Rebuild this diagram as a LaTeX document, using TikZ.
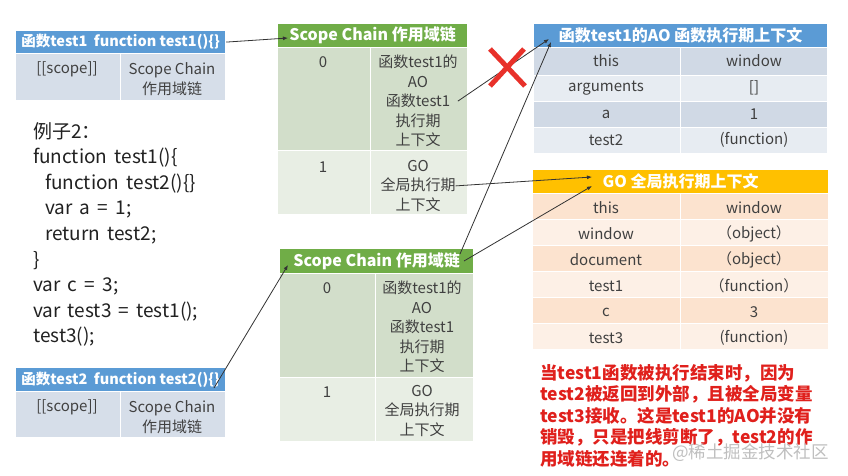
\documentclass[tikz,border=0pt]{standalone}
\usepackage{fontspec}
\setmainfont{Noto Sans CJK SC}
\usetikzlibrary{arrows.meta,calc}
\definecolor{hblue}{HTML}{5B9BD5}
\definecolor{bbody}{HTML}{D6DEE9}
\definecolor{aodark}{HTML}{D0D9E5}
\definecolor{aolight}{HTML}{E7ECF2}
\definecolor{hgreen}{HTML}{70AD47}
\definecolor{gdark}{HTML}{D2DECA}
\definecolor{glight}{HTML}{E8EEE4}
\definecolor{horange}{HTML}{FFC000}
\definecolor{odark}{HTML}{FCE3CF}
\definecolor{olight}{HTML}{FDF0E6}
\definecolor{xred}{HTML}{E8312A}
\definecolor{tred}{HTML}{E0201C}
\definecolor{txt}{HTML}{404040}
\newcommand\cellat[6]{\node[cellbox, fill=#6, minimum width=#4pt, minimum height=#5pt] (#1) at (#2,#3) {};}
\newcommand\widesp{\spaceskip=0.38em\relax}
\tikzset{
  cellbox/.style={draw=white, line width=1.2pt, inner sep=0pt, anchor=north west},
  hdrtext/.style={text=white, inner sep=0pt, font=\bfseries\fontsize{16}{18}\selectfont},
  celltext/.style={text=txt, inner sep=0pt, font=\fontsize{15}{19.5}\selectfont},
  codetext/.style={text=black!87, inner sep=0pt, font=\fontsize{19}{25.6}\selectfont},
  arr/.style={draw=black!80, line width=0.8pt, -{Latex[length=5pt,width=4pt]}}
}
\begin{document}
\begin{tikzpicture}[x=1pt,y=-1pt]
\useasboundingbox (0,0) rectangle (848,476);
\fill[white] (0,0) rectangle (848,476);

% test1 box
\cellat{t1h}{15}{30}{210}{23}{hblue}
\cellat{t1a}{15}{53}{105}{47}{bbody}
\cellat{t1b}{120}{53}{105}{47}{bbody}
\node[hdrtext, font=\bfseries\fontsize{14.5}{16}\selectfont] (t1ht) at (t1h.center) {函数test1\ \ function test1()\{\}};
\node[celltext] (t1at) at (67,69) {[[scope]]};
\node[celltext, align=center] (t1bt) at (172,79) {Scope Chain\\作用域链};

% code
\node[codetext, anchor=north west, align=left] (code) at (33,122) {\widesp 例子2：\\\widesp function test1()\{\\\widesp\hspace*{12pt}function test2()\{\}\\\widesp\hspace*{12pt}var a = 1;\\\widesp\hspace*{12pt}return test2;\\\}\\\widesp var c = 3;\\\widesp var test3 = test1();\\test3();};

% test2 box
\cellat{t2h}{15}{367}{210}{24}{hblue}
\cellat{t2a}{15}{391}{105}{46}{bbody}
\cellat{t2b}{120}{391}{105}{46}{bbody}
\node[hdrtext, font=\bfseries\fontsize{14.5}{16}\selectfont] (t2ht) at (t2h.center) {函数test2\ \ function test2()\{\}};
\node[celltext] (t2at) at (67,407) {[[scope]]};
\node[celltext, align=center] (t2bt) at (172,417) {Scope Chain\\作用域链};

% scope chain 1
\cellat{s1h}{277}{23}{190}{24}{hgreen}
\cellat{s1a}{277}{47}{93}{103}{gdark}
\cellat{s1b}{370}{47}{97}{103}{gdark}
\cellat{s1c}{277}{150}{93}{64}{glight}
\cellat{s1d}{370}{150}{97}{64}{glight}
\node[hdrtext] (s1ht) at (s1h.center) {Scope Chain 作用域链};
\node[celltext] (s1r0n) at (323,62) {0};
\node[celltext, align=center, anchor=north] (s1r0) at (418,55) {函数test1的\\AO\\函数test1\\执行期\\上下文};
\node[celltext] (s1r1n) at (323,167) {1};
\node[celltext, align=center, anchor=north] (s1r1) at (418,160) {GO\\全局执行期\\上下文};

% scope chain 2
\cellat{s2h}{279}{248}{194}{25}{hgreen}
\cellat{s2a}{279}{273}{96}{104}{gdark}
\cellat{s2b}{375}{273}{98}{104}{gdark}
\cellat{s2c}{279}{377}{96}{64}{glight}
\cellat{s2d}{375}{377}{98}{64}{glight}
\node[hdrtext] (s2ht) at (s2h.center) {Scope Chain 作用域链};
\node[celltext] (s2r0n) at (327,288) {0};
\node[celltext, align=center, anchor=north] (s2r0) at (422,281) {函数test1的\\AO\\函数test1\\执行期\\上下文};
\node[celltext] (s2r1n) at (327,392) {1};
\node[celltext, align=center, anchor=north] (s2r1) at (422,385) {GO\\全局执行期\\上下文};

% AO table
\cellat{aoh}{533}{23}{294}{24}{hblue}
\node[hdrtext] (aoht) at (aoh.center) {函数test1的AO 函数执行期上下文};
\cellat{ao1a}{533}{47}{147}{28}{aodark}
\cellat{ao1b}{680}{47}{147}{28}{aodark}
\cellat{ao2a}{533}{75}{147}{26}{aolight}
\cellat{ao2b}{680}{75}{147}{26}{aolight}
\cellat{ao3a}{533}{101}{147}{26}{aodark}
\cellat{ao3b}{680}{101}{147}{26}{aodark}
\cellat{ao4a}{533}{127}{147}{26}{aolight}
\cellat{ao4b}{680}{127}{147}{26}{aolight}
\node[celltext] (ao1l) at (606,61) {this};
\node[celltext] (ao1r) at (754,61) {window};
\node[celltext] (ao2l) at (606,88) {arguments};
\node[celltext] (ao2r) at (754,88) {[]};
\node[celltext] (ao3l) at (606,114) {a};
\node[celltext] (ao3r) at (754,114) {1};
\node[celltext] (ao4l) at (606,140) {test2};
\node[celltext] (ao4r) at (754,140) {(function)};

% GO table
\cellat{goh}{532}{169}{296}{24}{horange}
\node[hdrtext] (goht) at (goh.center) {GO 全局执行期上下文};
\cellat{go1a}{532}{193}{148}{26}{odark}
\cellat{go1b}{680}{193}{148}{26}{odark}
\cellat{go2a}{532}{219}{148}{26}{olight}
\cellat{go2b}{680}{219}{148}{26}{olight}
\cellat{go3a}{532}{245}{148}{26}{odark}
\cellat{go3b}{680}{245}{148}{26}{odark}
\cellat{go4a}{532}{271}{148}{26}{olight}
\cellat{go4b}{680}{271}{148}{26}{olight}
\cellat{go5a}{532}{297}{148}{26}{odark}
\cellat{go5b}{680}{297}{148}{26}{odark}
\cellat{go6a}{532}{323}{148}{26}{olight}
\cellat{go6b}{680}{323}{148}{26}{olight}
\node[celltext] (go1l) at (606,208) {this};
\node[celltext] (go1r) at (754,208) {window};
\node[celltext] (go2l) at (606,234) {window};
\node[celltext] (go2r) at (754,234) {（object）};
\node[celltext] (go3l) at (606,260) {document};
\node[celltext] (go3r) at (754,260) {（object）};
\node[celltext] (go4l) at (606,286) {test1};
\node[celltext] (go4r) at (754,286) {（function）};
\node[celltext] (go5l) at (606,312) {c};
\node[celltext] (go5r) at (754,312) {3};
\node[celltext] (go6l) at (606,338) {test3};
\node[celltext] (go6r) at (754,338) {(function)};

% red note
\node[text=tred, inner sep=0pt, anchor=north west, align=left, font=\bfseries\fontsize{17.5}{21.5}\selectfont] (note) at (540,364) {当test1函数被执行结束时，因为\\test2被返回到外部，且被全局变量\\test3接收。这是test1的AO并没有\\销毁，只是把线剪断了，test2的作\\用域链还连着的。};
\node[text=black!25, inner sep=0pt, anchor=west, font=\fontsize{17.5}{20}\selectfont] (wm) at (672,453) {@稀土掘金技术社区};

% connector end points
\coordinate (sc1Tip) at (288,38);
\coordinate (sc2Tip) at (288,265);
\coordinate (aoTip1) at (549,39);
\coordinate (aoTip2) at (551,42);
\coordinate (goTip1) at (592,177);
\coordinate (goTip2) at (592,186);
\coordinate (s2a0) at (460,254);
\coordinate (s2a1) at (464,261);
\coordinate (t2s) at (214,388);

\draw[arr] (t1h.east) -- (sc1Tip);
\draw[arr] (s1r0.east) -- (aoTip1);
\draw[arr] (s1r1.east) -- (goTip1);
\draw[arr] (s2a0) -- (aoTip2);
\draw[arr] (s2a1) -- (goTip2);
\draw[arr] (t2s) -- (sc2Tip);

% red cross
\draw[xred, line width=5pt] (490,49) -- (525,86) (524,49) -- (490,86);
\end{tikzpicture}
\end{document}
